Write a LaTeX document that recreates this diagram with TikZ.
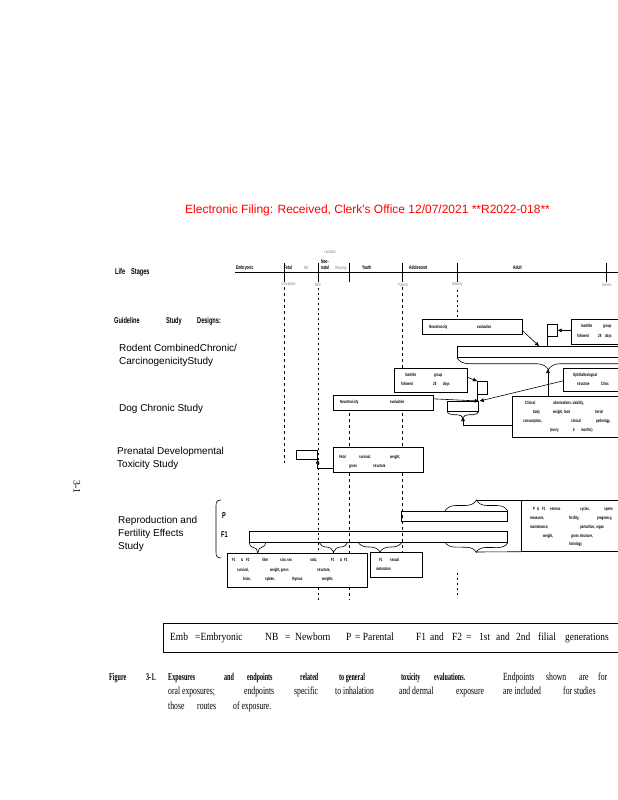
\documentclass[tikz,border=0pt]{standalone}
\usepackage{fontspec}
\setmainfont{Liberation Serif}
\newfontfamily\arialf{Liberation Sans}
\newfontfamily\narf[FakeStretch=0.62]{Liberation Sans}
\newfontfamily\headf[FakeStretch=0.66]{Liberation Sans}
\newfontfamily\timesn[FakeStretch=0.86]{Liberation Serif}
\newfontfamily\timesc[FakeStretch=0.7]{Liberation Serif}
\newfontfamily\timesbc[FakeStretch=0.58]{Liberation Serif}
\usetikzlibrary{arrows.meta,decorations.pathreplacing}
\definecolor{tgray}{RGB}{125,125,150}
\newcommand\tx{\narf\bfseries\fontsize{4.6}{5.6}\selectfont}
\newcommand\tlab{\narf\bfseries\fontsize{5.4}{5.8}\selectfont}
\newcommand\tgr{\narf\fontsize{4.6}{5.4}\selectfont\color{tgray}}
\newcommand\wb[2]{\makebox[#1pt][l]{#2}}
\begin{document}
\begin{tikzpicture}[x=1pt,y=-1pt,
  box/.style={draw,line width=0.7pt,fill=white,inner sep=0pt,anchor=north west},
  barb/.style={draw,line width=0.7pt,inner sep=0pt,anchor=north west},
  arr/.style={-{Triangle[length=4pt,width=3.6pt]},line width=0.6pt},
  ln/.style={line width=0.6pt},
  brc/.style={decorate,decoration={brace,amplitude=#1},line width=0.6pt},
  tt/.style={anchor=west,inner sep=0pt,font=\tx},
  tl/.style={anchor=west,inner sep=0pt,font=\tlab},
  tg/.style={anchor=west,inner sep=0pt,font=\tgr},
  study/.style={anchor=west,inner sep=0pt,font=\arialf\fontsize{10}{13}\selectfont,align=left},
  head/.style={anchor=west,inner sep=0pt,font=\headf\bfseries\fontsize{8.5}{10}\selectfont},
  dsh/.style={line width=0.6pt,dash pattern=on 3pt off 3pt},
  dot/.style={line width=0.6pt,dash pattern=on 1.6pt off 3.4pt},
]
\useasboundingbox (0,0) rectangle (618,800);
\clip (0,0) rectangle (618,800);

% header
\node[anchor=west,inner sep=0pt,font=\arialf\fontsize{12}{14}\selectfont,text=red] (hdr) at (185,210)
  {Electronic Filing: Received, Clerk's Office 12/07/2021 **R2022-018**};

% page number
\node[rotate=-90,inner sep=0pt,font=\fontsize{10}{12}\selectfont] (pg) at (77,487) {3-1};

% life stages
\node[head] (ls) at (115,272) {\wb{16}{Life}Stages};
\draw[line width=0.8pt] (235,272) coordinate (tla) -- (640,272) coordinate (tlb);
\foreach \x in {284,318,349,402,457,606} \draw[line width=0.8pt] (\x,263) -- (\x,282);
\node[tl] (l1) at (236,268) {Embryonic};
\node[tl] (l2) at (284,268) {Fetal};
\node[tg] (l3) at (304,268) {NB};
\node[tl,align=left] (l4) at (321,264.5) {Neo-\\natal};
\node[tg] (l5) at (335,268) {Weaning};
\node[tl] (l6) at (362,268) {Youth};
\node[tl] (l7) at (409,268) {Adolescent};
\node[tl] (l8) at (513,268) {Adult};
\node[tg] (l9) at (324,252) {Lactation};
\node[tg] (b1) at (281,284) {Conception};
\node[tg] (b2) at (315,285) {Birth};
\node[tg] (b3) at (398,285) {Puberty};
\node[tg] (b4) at (452,284) {Maturity};
\node[tg] (b5) at (602,285) {Senesc.};

% dashed guides
\draw[dsh] (284,287) -- (284,463);
\draw[dot] (318,288) -- (318,600);
\draw[dsh] (349,413) -- (349,600);
\draw[dsh] (402,287) -- (402,552);
\draw[dot] (457,290) -- (457,318);
\draw[dot] (457,573) -- (457,598);

\node[head] (gsd) at (114,321) {\wb{52}{Guideline}\wb{31}{Study}Designs:};

% study labels
\node[study] (sRod) at (119,355) {Rodent CombinedChronic/\\CarcinogenicityStudy};
\node[study] (sDog) at (119,409) {Dog Chronic Study};
\node[study] (sPre) at (117,458.5) {Prenatal Developmental\\Toxicity Study};
\node[study] (sRep) at (118,533.5) {Reproduction and\\Fertility Effects\\Study};

% ---------- rodent ----------
\node[box,minimum width=100pt,minimum height=15pt] (rneuro) at (422,319) {};
\node[tt] (rneuroT) at (429,327) {\wb{48}{Neurotoxicity}evaluation};
\node[box,minimum width=10pt,minimum height=12pt] (rsq) at (547,324) {};
\node[box,minimum width=80pt,minimum height=25pt] (rsat) at (571,319) {};
\node[tt] (rsatT1) at (581,326) {\wb{22}{Satellite}group};
\node[tt] (rsatT2) at (577,336) {\wb{21}{followed}\wb{7}{28}days};
\node[barb,minimum width=182pt,minimum height=11pt] (rbar) at (457,346) {};
\draw[brc=12pt] (rbar.south east) -- (rbar.south west);
\coordinate (rtip) at (548,369);
\coordinate (rhit) at (539,346);
\draw[ln] (rsq.south west) -- (rsq.south west |- rbar.north);
\draw[arr] ([yshift=-4pt]rneuro.east) -- (rhit);
\draw[arr] (rsat.west |- rsq.east) -- (rsq.east);

% ---------- dog ----------
\node[box,minimum width=73pt,minimum height=24pt] (dsat) at (394,368) {};
\node[tt] (dsatT1) at (405,375) {\wb{29}{Satellite}group};
\node[tt] (dsatT2) at (401,384) {\wb{32}{followed}\wb{10}{28}days};
\node[box,minimum width=10pt,minimum height=13pt] (dsq) at (477,381) {};
\node[box,minimum width=100pt,minimum height=15pt] (dneuro) at (333,395) {};
\node[tt] (dneuroT) at (340,402) {\wb{50}{Neurotoxicity}evaluation};
\node[barb,minimum width=31pt,minimum height=10pt] (dbar) at (447,401) {};
\draw[brc=6pt] (dbar.south east) -- (dbar.south west);
\coordinate (dtip) at (463,417);
\node[box,minimum width=80pt,minimum height=23pt] (ophth) at (563,368) {};
\node[tt] (ophT1) at (573,375) {Ophthalmological};
\node[tt] (ophT2) at (577,384) {\wb{24}{structure}Clinic};
\node[box,minimum width=130pt,minimum height=41pt] (clin) at (512,396) {};
\node[tt] (clT1) at (525,403) {\wb{28}{Clinical}observations, viability,};
\node[tt] (clT2) at (533,412) {\wb{20}{body}\wb{42}{weight, food}Serial};
\node[tt] (clT3) at (523,421) {\wb{48}{consumption,}\wb{25}{clinical}pathology,};
\node[tt] (clT4) at (550,430) {\wb{23}{(every}\wb{8}{6}months)};
\draw[ln] (dsq.south west) -- (dsq.south west |- dbar.north);
\draw[arr] ([yshift=3pt]dsat.east) -- (dsq.north west);
\draw[arr] ([yshift=4pt]dneuro.east) -- (dbar.north east);
\draw[arr] ([yshift=-1pt]ophth.west) -- ([xshift=1pt]dbar.north east);
\draw[arr] (clin.north -| rtip) -- (rtip);
\draw[arr] ([yshift=-8.5pt]clin.west) -| (dtip);

% ---------- prenatal ----------
\node[box,minimum width=21pt,minimum height=9pt] (psq) at (296,450) {};
\node[box,minimum width=90pt,minimum height=25pt] (fetal) at (333,447) {};
\node[tt] (feT1) at (339,457) {\wb{20}{Fetal}\wb{31}{survival,}weight,};
\node[tt] (feT2) at (349,466) {\wb{24}{gross}structure};
\draw[arr] ([yshift=-8.5pt]fetal.west) -| (psq.south east);

% ---------- reproduction ----------
\draw[ln] (221,500) coordinate (pa) .. controls (217,500) and (216,502) .. (216,506) -- (216,552)
  .. controls (216,556) and (217,558) .. (221,558) coordinate (pb);
\node[head] (lP) at (222,516) {P};
\node[head] (lF1) at (221,535) {F1};
\node[barb,minimum width=106pt,minimum height=10pt] (pbar) at (401,511) {};
\node[barb,minimum width=258pt,minimum height=11pt] (fbar) at (249,531) {};
\draw[brc=11pt] (445,511) -- (pbar.north east);
\coordinate (ptip) at (476,500);
\draw[brc=10pt] (fbar.south east) -- (445,542);
\coordinate (ftip) at (476,552);
\draw[brc=10pt] (266,542) -- (fbar.south west);
\coordinate (fa) at (257.5,552);
\draw[brc=10pt] (348,542) -- (319,542);
\coordinate (fb) at (333.5,552);
\draw[brc=10pt] (402,542) -- (358,542);
\coordinate (fc) at (380,552);
\node[box,minimum width=120pt,minimum height=51pt] (repro) at (521,500) {};
\draw[ln] (ptip) -- (repro.north west);
\draw[ln] (ftip) -- (repro.south west);
\node[tt] (reT1) at (533,509) {\wb{4}{P}\wb{5}{\&}\wb{8}{F1}\wb{30}{estrous}\wb{24}{cycles,}sperm};
\node[tt] (reT2) at (530,518) {\wb{39}{measures,}\wb{28}{fertility,}pregnancy,};
\node[tt] (reT3) at (530,527) {\wb{50}{maintenance,}parturition, organ};
\node[tt] (reT4) at (543,536) {\wb{28}{weight,}gross structure,};
\node[tt] (reT5) at (569,544) {histology};
\node[box,minimum width=140pt,minimum height=34pt] (f12) at (227,553) {};
\node[tt] (fT1) at (232,560) {\wb{9}{F1}\wb{5}{\&}\wb{16}{F2}\wb{18}{litter}\wb{30}{size, sex}\wb{21}{ratio,}\wb{9}{F1}\wb{4}{\&}F2};
\node[tt] (fT2) at (237,570) {\wb{33}{survival,}\wb{47}{weight, gross}structure,};
\node[tt] (fT3) at (243,579) {\wb{22}{brain,}\wb{27}{spleen,}\wb{30}{thymus}weights};
\node[box,minimum width=52pt,minimum height=25pt] (sexm) at (370,552) {};
\node[tt] (sT1) at (379,560) {\wb{11}{F1}sexual};
\node[tt] (sT2) at (376,569) {maturation};
\draw[ln] (fa) -- (f12.north -| fa);
\draw[ln] (fb) -- (f12.north -| fb);
\draw[ln] (fc) -- (sexm.north -| fc);

% ---------- legend ----------
\node[box,line width=0.8pt,minimum width=477pt,minimum height=29pt] (leg) at (163,623) {};
\node[anchor=west,inner sep=0pt,font=\timesn\fontsize{11}{13}\selectfont] (legT) at (170,637.5)
  {\wb{25}{Emb}\wb{70}{=Embryonic}\wb{20}{NB}\wb{10}{=}\wb{51}{Newborn}\wb{9}{P}\wb{61}{= Parental}\wb{14}{F1}\wb{22}{and}\wb{14}{F2}\wb{13}{=}\wb{17}{1st}\wb{20}{and}\wb{22}{2nd}\wb{27}{filial}generations};

% ---------- caption ----------
\node[anchor=west,inner sep=0pt,font=\fontsize{11}{13}\selectfont] (cap1) at (109,678)
  {{\timesbc\bfseries\fontsize{10.5}{13}\selectfont\wb{37}{Figure}\wb{22}{3-1.}\wb{56}{Exposures}\wb{23}{and}\wb{53}{endpoints}\wb{39}{related}\wb{62}{to general}\wb{33}{toxicity}\wb{69}{evaluations.}}{\timesc\wb{43}{Endpoints}\wb{33}{shown}\wb{19}{are}for}};
\node[anchor=west,inner sep=0pt,font=\timesc\fontsize{11}{13}\selectfont] (cap2) at (168,692)
  {\wb{76}{oral exposures;}\wb{50}{endpoints}\wb{41}{specific}\wb{64}{to inhalation}\wb{57}{and dermal}\wb{47}{exposure}\wb{60}{are included}for studies};
\node[anchor=west,inner sep=0pt,font=\timesc\fontsize{11}{13}\selectfont] (cap3) at (168,707)
  {\wb{29}{those}\wb{36}{routes}of exposure.};
\end{tikzpicture}
\end{document}
